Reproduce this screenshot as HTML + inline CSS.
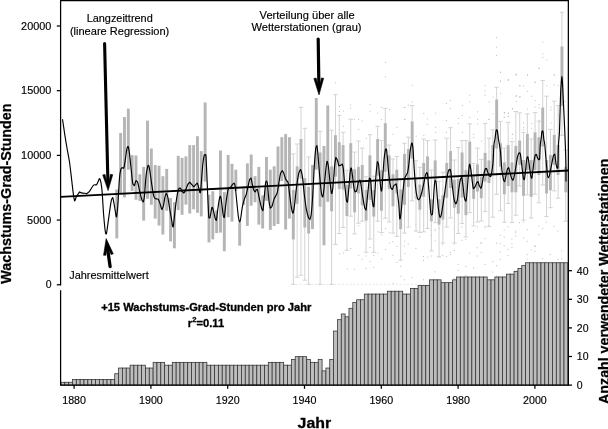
<!DOCTYPE html>
<html lang="de"><head><meta charset="utf-8"><title>Wachstums-Grad-Stunden</title><style>html,body{margin:0;padding:0;background:#fff}svg{display:block}</style></head><body>
<svg width="608" height="429" viewBox="0 0 608 429" font-family="Liberation Sans, Arial, Helvetica, sans-serif">
<rect width="608" height="429" fill="#fff"/>
<g fill="#bebebe">
<rect x="411.8" y="84.8" width="1" height="1"/>
<rect x="411.8" y="101.5" width="1" height="1"/>
<rect x="403.9" y="107.0" width="1" height="1"/>
<rect x="407.8" y="104.6" width="1" height="1"/>
<rect x="403.9" y="118.9" width="1" height="1"/>
<rect x="423.3" y="113.0" width="1" height="1"/>
<rect x="426.8" y="118.5" width="1" height="1"/>
<rect x="426.8" y="123.9" width="1" height="1"/>
<rect x="435.1" y="112.6" width="1" height="1"/>
<rect x="435.1" y="126.8" width="1" height="1"/>
<rect x="435.1" y="131.8" width="1" height="1"/>
<rect x="423.3" y="135.1" width="1" height="1"/>
<rect x="415.7" y="135.7" width="1" height="1"/>
<rect x="446.0" y="103.1" width="1" height="1"/>
<rect x="450.0" y="100.1" width="1" height="1"/>
<rect x="450.0" y="108.0" width="1" height="1"/>
<rect x="446.0" y="119.9" width="1" height="1"/>
<rect x="446.0" y="131.8" width="1" height="1"/>
<rect x="457.9" y="117.9" width="1" height="1"/>
<rect x="457.9" y="122.9" width="1" height="1"/>
<rect x="461.9" y="105.0" width="1" height="1"/>
<rect x="461.9" y="114.9" width="1" height="1"/>
<rect x="461.9" y="131.8" width="1" height="1"/>
<rect x="469.2" y="94.7" width="1" height="1"/>
<rect x="469.2" y="101.5" width="1" height="1"/>
<rect x="469.2" y="116.9" width="1" height="1"/>
<rect x="473.2" y="133.8" width="1" height="1"/>
<rect x="473.2" y="137.1" width="1" height="1"/>
<rect x="477.1" y="111.4" width="1" height="1"/>
<rect x="477.1" y="118.9" width="1" height="1"/>
<rect x="477.1" y="123.3" width="1" height="1"/>
<rect x="481.1" y="140.7" width="1" height="1"/>
<rect x="484.6" y="85.2" width="1" height="1"/>
<rect x="484.6" y="90.2" width="1" height="1"/>
<rect x="484.6" y="94.7" width="1" height="1"/>
<rect x="488.6" y="101.5" width="1" height="1"/>
<rect x="488.6" y="118.9" width="1" height="1"/>
<rect x="492.6" y="96.7" width="1" height="1"/>
<rect x="492.6" y="113.4" width="1" height="1"/>
<rect x="500.1" y="71.8" width="1" height="1"/>
<rect x="500.1" y="80.9" width="1" height="1"/>
<rect x="500.1" y="92.8" width="1" height="1"/>
<rect x="504.1" y="112.0" width="1" height="1"/>
<rect x="504.1" y="116.9" width="1" height="1"/>
<rect x="508.0" y="79.3" width="1" height="1"/>
<rect x="508.0" y="112.6" width="1" height="1"/>
<rect x="508.0" y="115.9" width="1" height="1"/>
<rect x="512.0" y="108.0" width="1" height="1"/>
<rect x="512.0" y="133.8" width="1" height="1"/>
<rect x="515.9" y="74.4" width="1" height="1"/>
<rect x="515.9" y="95.1" width="1" height="1"/>
<rect x="515.9" y="101.1" width="1" height="1"/>
<rect x="519.5" y="85.2" width="1" height="1"/>
<rect x="519.5" y="96.1" width="1" height="1"/>
<rect x="335.0" y="82.3" width="1" height="1"/>
<rect x="339.0" y="106.0" width="1" height="1"/>
<rect x="339.0" y="111.0" width="1" height="1"/>
<rect x="342.9" y="110.6" width="1" height="1"/>
<rect x="350.2" y="104.6" width="1" height="1"/>
<rect x="350.2" y="107.6" width="1" height="1"/>
<rect x="353.8" y="118.9" width="1" height="1"/>
<rect x="358.2" y="118.9" width="1" height="1"/>
<rect x="361.7" y="120.5" width="1" height="1"/>
<rect x="358.2" y="128.8" width="1" height="1"/>
<rect x="342.9" y="125.8" width="1" height="1"/>
<rect x="369.6" y="104.1" width="1" height="1"/>
<rect x="369.6" y="110.6" width="1" height="1"/>
<rect x="377.2" y="112.6" width="1" height="1"/>
<rect x="381.1" y="107.0" width="1" height="1"/>
<rect x="385.1" y="61.9" width="1" height="1"/>
<rect x="385.1" y="76.3" width="1" height="1"/>
<rect x="389.1" y="109.0" width="1" height="1"/>
<rect x="381.1" y="118.9" width="1" height="1"/>
<rect x="392.4" y="133.8" width="1" height="1"/>
<rect x="396.4" y="126.8" width="1" height="1"/>
<rect x="404.5" y="107.0" width="1" height="1"/>
<rect x="404.5" y="118.9" width="1" height="1"/>
<rect x="365.7" y="137.7" width="1" height="1"/>
<rect x="507.7" y="79.3" width="1" height="1"/>
<rect x="515.6" y="73.8" width="1" height="1"/>
<rect x="527.1" y="74.4" width="1" height="1"/>
<rect x="519.2" y="85.2" width="1" height="1"/>
<rect x="523.1" y="85.6" width="1" height="1"/>
<rect x="527.1" y="90.8" width="1" height="1"/>
<rect x="534.6" y="81.9" width="1" height="1"/>
<rect x="538.6" y="68.0" width="1" height="1"/>
<rect x="515.6" y="96.1" width="1" height="1"/>
<rect x="519.2" y="96.7" width="1" height="1"/>
<rect x="531.1" y="95.7" width="1" height="1"/>
<rect x="534.6" y="100.1" width="1" height="1"/>
<rect x="534.6" y="106.6" width="1" height="1"/>
<rect x="527.1" y="108.6" width="1" height="1"/>
<rect x="511.7" y="108.6" width="1" height="1"/>
<rect x="507.7" y="112.6" width="1" height="1"/>
<rect x="503.7" y="112.6" width="1" height="1"/>
<rect x="503.7" y="116.9" width="1" height="1"/>
<rect x="507.7" y="115.9" width="1" height="1"/>
<rect x="488.5" y="118.9" width="1" height="1"/>
<rect x="511.7" y="133.8" width="1" height="1"/>
<rect x="511.7" y="137.7" width="1" height="1"/>
<rect x="523.1" y="122.5" width="1" height="1"/>
<rect x="523.1" y="126.8" width="1" height="1"/>
<rect x="523.1" y="129.2" width="1" height="1"/>
<rect x="531.1" y="122.9" width="1" height="1"/>
<rect x="531.1" y="127.8" width="1" height="1"/>
<rect x="538.6" y="104.1" width="1" height="1"/>
<rect x="538.6" y="107.4" width="1" height="1"/>
<rect x="538.6" y="121.3" width="1" height="1"/>
<rect x="546.5" y="85.2" width="1" height="1"/>
<rect x="550.5" y="106.6" width="1" height="1"/>
<rect x="550.5" y="109.4" width="1" height="1"/>
<rect x="550.5" y="122.5" width="1" height="1"/>
<rect x="553.8" y="84.3" width="1" height="1"/>
<rect x="553.8" y="74.4" width="1" height="1"/>
<rect x="557.8" y="85.2" width="1" height="1"/>
<rect x="557.8" y="105.0" width="1" height="1"/>
<rect x="557.8" y="114.9" width="1" height="1"/>
<rect x="561.2" y="134.7" width="1" height="1"/>
<rect x="564.7" y="101.1" width="1" height="1"/>
<rect x="496.0" y="37.1" width="1" height="1"/>
<rect x="496.0" y="46.6" width="1" height="1"/>
<rect x="496.0" y="54.9" width="1" height="1"/>
<rect x="500.0" y="71.8" width="1" height="1"/>
<rect x="500.0" y="80.7" width="1" height="1"/>
<rect x="507.9" y="79.7" width="1" height="1"/>
<rect x="515.6" y="74.4" width="1" height="1"/>
<rect x="527.1" y="74.7" width="1" height="1"/>
<rect x="534.6" y="81.7" width="1" height="1"/>
<rect x="538.6" y="67.8" width="1" height="1"/>
<rect x="542.4" y="41.7" width="1" height="1"/>
<rect x="542.4" y="53.4" width="1" height="1"/>
<rect x="542.4" y="56.9" width="1" height="1"/>
<rect x="546.3" y="59.3" width="1" height="1"/>
<rect x="553.8" y="74.4" width="1" height="1"/>
<rect x="339.0" y="253.4" width="1" height="1"/>
<rect x="342.9" y="252.6" width="1" height="1"/>
<rect x="350.2" y="248.0" width="1" height="1"/>
<rect x="358.2" y="254.9" width="1" height="1"/>
<rect x="361.7" y="258.9" width="1" height="1"/>
<rect x="365.7" y="255.5" width="1" height="1"/>
<rect x="369.6" y="260.9" width="1" height="1"/>
<rect x="373.2" y="254.9" width="1" height="1"/>
<rect x="377.2" y="252.4" width="1" height="1"/>
<rect x="381.1" y="258.5" width="1" height="1"/>
<rect x="385.1" y="249.0" width="1" height="1"/>
<rect x="389.1" y="242.7" width="1" height="1"/>
<rect x="392.4" y="241.1" width="1" height="1"/>
<rect x="392.4" y="254.9" width="1" height="1"/>
<rect x="396.4" y="246.0" width="1" height="1"/>
<rect x="396.4" y="261.9" width="1" height="1"/>
<rect x="400.3" y="265.8" width="1" height="1"/>
<rect x="400.3" y="275.7" width="1" height="1"/>
<rect x="404.3" y="253.0" width="1" height="1"/>
<rect x="404.3" y="240.7" width="1" height="1"/>
<rect x="346.9" y="268.4" width="1" height="1"/>
<rect x="353.8" y="268.8" width="1" height="1"/>
<rect x="365.7" y="267.8" width="1" height="1"/>
<rect x="373.2" y="266.8" width="1" height="1"/>
<rect x="369.6" y="247.0" width="1" height="1"/>
<rect x="377.6" y="231.2" width="1" height="1"/>
<rect x="381.1" y="234.2" width="1" height="1"/>
<rect x="385.1" y="228.2" width="1" height="1"/>
<rect x="389.1" y="232.2" width="1" height="1"/>
<rect x="358.2" y="225.2" width="1" height="1"/>
<rect x="393.0" y="282.7" width="1" height="1"/>
<rect x="403.8" y="279.3" width="1" height="1"/>
<rect x="403.8" y="245.6" width="1" height="1"/>
<rect x="403.8" y="224.4" width="1" height="1"/>
<rect x="407.7" y="243.8" width="1" height="1"/>
<rect x="411.5" y="277.0" width="1" height="1"/>
<rect x="415.4" y="223.8" width="1" height="1"/>
<rect x="415.4" y="248.0" width="1" height="1"/>
<rect x="419.2" y="236.2" width="1" height="1"/>
<rect x="423.0" y="225.1" width="1" height="1"/>
<rect x="423.0" y="256.0" width="1" height="1"/>
<rect x="423.0" y="279.3" width="1" height="1"/>
<rect x="423.0" y="260.0" width="1" height="1"/>
<rect x="426.9" y="256.7" width="1" height="1"/>
<rect x="430.7" y="224.5" width="1" height="1"/>
<rect x="430.7" y="235.0" width="1" height="1"/>
<rect x="430.7" y="255.5" width="1" height="1"/>
<rect x="430.7" y="229.6" width="1" height="1"/>
<rect x="434.6" y="230.3" width="1" height="1"/>
<rect x="434.6" y="228.7" width="1" height="1"/>
<rect x="434.6" y="240.3" width="1" height="1"/>
<rect x="434.6" y="271.3" width="1" height="1"/>
<rect x="438.4" y="227.8" width="1" height="1"/>
<rect x="438.4" y="256.3" width="1" height="1"/>
<rect x="442.2" y="244.2" width="1" height="1"/>
<rect x="442.2" y="254.9" width="1" height="1"/>
<rect x="446.1" y="255.9" width="1" height="1"/>
<rect x="449.9" y="251.8" width="1" height="1"/>
<rect x="449.9" y="253.9" width="1" height="1"/>
<rect x="453.8" y="249.9" width="1" height="1"/>
<rect x="453.8" y="277.8" width="1" height="1"/>
<rect x="453.8" y="243.6" width="1" height="1"/>
<rect x="457.6" y="270.0" width="1" height="1"/>
<rect x="457.6" y="264.1" width="1" height="1"/>
<rect x="461.4" y="226.5" width="1" height="1"/>
<rect x="461.4" y="239.8" width="1" height="1"/>
<rect x="465.3" y="274.9" width="1" height="1"/>
<rect x="465.3" y="266.0" width="1" height="1"/>
<rect x="465.3" y="239.1" width="1" height="1"/>
<rect x="465.3" y="281.3" width="1" height="1"/>
<rect x="469.1" y="252.7" width="1" height="1"/>
<rect x="473.0" y="267.7" width="1" height="1"/>
<rect x="473.0" y="230.8" width="1" height="1"/>
<rect x="476.8" y="247.2" width="1" height="1"/>
<rect x="476.8" y="280.2" width="1" height="1"/>
<rect x="476.8" y="226.2" width="1" height="1"/>
<rect x="476.8" y="255.5" width="1" height="1"/>
<rect x="480.6" y="242.2" width="1" height="1"/>
<rect x="480.6" y="242.9" width="1" height="1"/>
<rect x="480.6" y="251.8" width="1" height="1"/>
<rect x="484.5" y="225.7" width="1" height="1"/>
<rect x="484.5" y="227.2" width="1" height="1"/>
<rect x="484.5" y="238.0" width="1" height="1"/>
<rect x="484.5" y="264.0" width="1" height="1"/>
<rect x="488.3" y="225.2" width="1" height="1"/>
<rect x="492.2" y="261.0" width="1" height="1"/>
<rect x="492.2" y="282.1" width="1" height="1"/>
<rect x="492.2" y="271.6" width="1" height="1"/>
<rect x="496.0" y="265.2" width="1" height="1"/>
<rect x="496.0" y="275.6" width="1" height="1"/>
<rect x="496.0" y="242.7" width="1" height="1"/>
<rect x="499.8" y="243.2" width="1" height="1"/>
<rect x="499.8" y="258.8" width="1" height="1"/>
<rect x="499.8" y="251.6" width="1" height="1"/>
<rect x="499.8" y="234.8" width="1" height="1"/>
<rect x="503.7" y="229.4" width="1" height="1"/>
<rect x="503.7" y="236.6" width="1" height="1"/>
<rect x="503.7" y="245.3" width="1" height="1"/>
<rect x="507.5" y="226.4" width="1" height="1"/>
<rect x="507.5" y="248.9" width="1" height="1"/>
<rect x="507.5" y="255.0" width="1" height="1"/>
<rect x="507.5" y="275.4" width="1" height="1"/>
<rect x="511.4" y="274.2" width="1" height="1"/>
<rect x="511.4" y="238.5" width="1" height="1"/>
<rect x="511.4" y="246.8" width="1" height="1"/>
<rect x="511.4" y="243.4" width="1" height="1"/>
<rect x="515.2" y="279.9" width="1" height="1"/>
<rect x="515.2" y="230.7" width="1" height="1"/>
<rect x="515.2" y="232.2" width="1" height="1"/>
<rect x="515.2" y="235.6" width="1" height="1"/>
<rect x="519.0" y="222.2" width="1" height="1"/>
<rect x="519.0" y="272.2" width="1" height="1"/>
<rect x="522.9" y="237.5" width="1" height="1"/>
<rect x="522.9" y="221.7" width="1" height="1"/>
<rect x="526.7" y="254.1" width="1" height="1"/>
<rect x="526.7" y="258.7" width="1" height="1"/>
<rect x="526.7" y="240.9" width="1" height="1"/>
<rect x="526.7" y="229.2" width="1" height="1"/>
<rect x="530.6" y="249.4" width="1" height="1"/>
<rect x="534.4" y="245.8" width="1" height="1"/>
<rect x="534.4" y="245.5" width="1" height="1"/>
<rect x="534.4" y="250.9" width="1" height="1"/>
<rect x="534.4" y="245.9" width="1" height="1"/>
<rect x="538.2" y="225.6" width="1" height="1"/>
<rect x="538.2" y="234.2" width="1" height="1"/>
<rect x="542.1" y="228.2" width="1" height="1"/>
<rect x="542.1" y="258.1" width="1" height="1"/>
<rect x="545.9" y="221.5" width="1" height="1"/>
<rect x="549.8" y="254.2" width="1" height="1"/>
<rect x="549.8" y="279.4" width="1" height="1"/>
<rect x="553.6" y="225.8" width="1" height="1"/>
<rect x="557.4" y="259.0" width="1" height="1"/>
<rect x="557.4" y="230.6" width="1" height="1"/>
<rect x="561.3" y="279.8" width="1" height="1"/>
<rect x="561.3" y="258.2" width="1" height="1"/>
<rect x="561.3" y="250.4" width="1" height="1"/>
<rect x="565.1" y="273.3" width="1" height="1"/>
<rect x="292.08" y="283.9" width="1.8" height="0.8" fill="#dedede"/>
<rect x="295.92" y="283.9" width="1.8" height="0.8" fill="#dedede"/>
<rect x="299.76" y="283.9" width="1.8" height="0.8" fill="#dedede"/>
<rect x="303.60" y="283.9" width="1.8" height="0.8" fill="#dedede"/>
<rect x="307.44" y="283.9" width="1.8" height="0.8" fill="#dedede"/>
<rect x="311.28" y="283.9" width="1.8" height="0.8" fill="#dedede"/>
<rect x="315.12" y="283.9" width="1.8" height="0.8" fill="#dedede"/>
<rect x="318.96" y="283.9" width="1.8" height="0.8" fill="#dedede"/>
<rect x="322.80" y="283.9" width="1.8" height="0.8" fill="#dedede"/>
<rect x="326.64" y="283.9" width="1.8" height="0.8" fill="#dedede"/>
<rect x="330.48" y="283.9" width="1.8" height="0.8" fill="#dedede"/>
<rect x="334.32" y="283.9" width="1.8" height="0.8" fill="#dedede"/>
<rect x="338.16" y="283.9" width="1.8" height="0.8" fill="#dedede"/>
<rect x="342.00" y="283.9" width="1.8" height="0.8" fill="#dedede"/>
<rect x="345.84" y="283.9" width="1.8" height="0.8" fill="#dedede"/>
<rect x="349.68" y="283.9" width="1.8" height="0.8" fill="#dedede"/>
<rect x="353.52" y="283.9" width="1.8" height="0.8" fill="#dedede"/>
<rect x="357.36" y="283.9" width="1.8" height="0.8" fill="#dedede"/>
<rect x="361.20" y="283.9" width="1.8" height="0.8" fill="#dedede"/>
<rect x="365.04" y="283.9" width="1.8" height="0.8" fill="#dedede"/>
<rect x="368.88" y="283.9" width="1.8" height="0.8" fill="#dedede"/>
<rect x="372.72" y="283.9" width="1.8" height="0.8" fill="#dedede"/>
<rect x="376.56" y="283.9" width="1.8" height="0.8" fill="#dedede"/>
<rect x="380.40" y="283.9" width="1.8" height="0.8" fill="#dedede"/>
<rect x="384.24" y="283.9" width="1.8" height="0.8" fill="#dedede"/>
<rect x="388.08" y="283.9" width="1.8" height="0.8" fill="#dedede"/>
<rect x="391.92" y="283.9" width="1.8" height="0.8" fill="#dedede"/>
<rect x="395.76" y="283.9" width="1.8" height="0.8" fill="#dedede"/>
<rect x="399.60" y="283.9" width="1.8" height="0.8" fill="#dedede"/>
<rect x="403.44" y="283.9" width="1.8" height="0.8" fill="#dedede"/>
<rect x="407.28" y="283.9" width="1.8" height="0.8" fill="#dedede"/>
<rect x="411.12" y="283.9" width="1.8" height="0.8" fill="#dedede"/>
<rect x="414.96" y="283.9" width="1.8" height="0.8" fill="#dedede"/>
<rect x="418.80" y="283.9" width="1.8" height="0.8" fill="#dedede"/>
<rect x="422.64" y="283.9" width="1.8" height="0.8" fill="#dedede"/>
<rect x="426.48" y="283.9" width="1.8" height="0.8" fill="#dedede"/>
<rect x="430.32" y="283.9" width="1.8" height="0.8" fill="#dedede"/>
<rect x="434.16" y="283.9" width="1.8" height="0.8" fill="#dedede"/>
<rect x="438.00" y="283.9" width="1.8" height="0.8" fill="#dedede"/>
</g>
<g stroke="#d3d3d3" stroke-width="1" fill="none">
<path d="M293.31 153.9V284.3M291.11 153.9h4.4M291.11 284.3h4.4"/>
<path d="M297.14 144.0V277.2M294.94 144.0h4.4M294.94 277.2h4.4"/>
<path d="M300.97 107.3V275.2M298.77 107.3h4.4M298.77 275.2h4.4"/>
<path d="M304.80 128.3V280.2M302.60 128.3h4.4M302.60 280.2h4.4"/>
<path d="M308.63 157.0V284.3M306.43 157.0h4.4M306.43 284.3h4.4"/>
<path d="M320.12 131.3V284.3M317.92 131.3h4.4M317.92 284.3h4.4"/>
<path d="M331.61 130.3V284.3M329.41 130.3h4.4M329.41 284.3h4.4"/>
<path d="M335.44 94.7V244.4M333.24 94.7h4.4M333.24 244.4h4.4"/>
<path d="M339.27 115.4V233.5M337.07 115.4h4.4M337.07 233.5h4.4"/>
<path d="M343.10 132.3V227.5M340.90 132.3h4.4M340.90 227.5h4.4"/>
<path d="M346.93 170.3V250.3M344.73 170.3h4.4M344.73 250.3h4.4"/>
<path d="M350.76 119.2V216.2M348.56 119.2h4.4M348.56 216.2h4.4"/>
<path d="M354.59 152.1V233.9M352.39 152.1h4.4M352.39 233.9h4.4"/>
<path d="M358.42 141.0V223.2M356.22 141.0h4.4M356.22 223.2h4.4"/>
<path d="M362.25 148.1V221.2M360.05 148.1h4.4M360.05 221.2h4.4"/>
<path d="M366.09 176.8V252.3M363.89 176.8h4.4M363.89 252.3h4.4"/>
<path d="M369.93 134.7V239.0M367.73 134.7h4.4M367.73 239.0h4.4"/>
<path d="M373.77 176.2V252.3M371.57 176.2h4.4M371.57 252.3h4.4"/>
<path d="M377.61 126.3V221.2M375.41 126.3h4.4M375.41 221.2h4.4"/>
<path d="M381.45 140.6V232.5M379.25 140.6h4.4M379.25 232.5h4.4"/>
<path d="M385.29 108.3V218.2M383.09 108.3h4.4M383.09 218.2h4.4"/>
<path d="M389.13 145.1V222.0M386.93 145.1h4.4M386.93 222.0h4.4"/>
<path d="M392.97 159.0V233.1M390.77 159.0h4.4M390.77 233.1h4.4"/>
<path d="M396.81 156.4V236.4M394.61 156.4h4.4M394.61 236.4h4.4"/>
<path d="M400.65 179.0V260.2M398.45 179.0h4.4M398.45 260.2h4.4"/>
<path d="M404.49 143.2V233.1M402.29 143.2h4.4M402.29 233.1h4.4"/>
<path d="M408.33 137.2V227.1M406.13 137.2h4.4M406.13 227.1h4.4"/>
<path d="M412.17 105.5V200.8M409.97 105.5h4.4M409.97 200.8h4.4"/>
<path d="M416.01 160.8V231.1M413.81 160.8h4.4M413.81 231.1h4.4"/>
<path d="M419.85 167.3V232.5M417.65 167.3h4.4M417.65 232.5h4.4"/>
<path d="M423.69 139.0V231.9M421.49 139.0h4.4M421.49 231.9h4.4"/>
<path d="M427.53 140.6V228.5M425.33 140.6h4.4M425.33 228.5h4.4"/>
<path d="M431.37 170.0V250.9M429.17 170.0h4.4M429.17 250.9h4.4"/>
<path d="M435.21 140.0V222.6M433.01 140.0h4.4M433.01 222.6h4.4"/>
<path d="M439.05 181.3V256.8M436.85 181.3h4.4M436.85 256.8h4.4"/>
<path d="M442.89 172.3V243.0M440.69 172.3h4.4M440.69 243.0h4.4"/>
<path d="M446.73 138.2V227.1M444.53 138.2h4.4M444.53 227.1h4.4"/>
<path d="M450.57 127.7V218.0M448.37 127.7h4.4M448.37 218.0h4.4"/>
<path d="M454.41 160.0V243.0M452.21 160.0h4.4M452.21 243.0h4.4"/>
<path d="M458.25 147.5V233.5M456.05 147.5h4.4M456.05 233.5h4.4"/>
<path d="M462.09 140.6V223.6M459.89 140.6h4.4M459.89 223.6h4.4"/>
<path d="M465.93 140.6V237.0M463.73 140.6h4.4M463.73 237.0h4.4"/>
<path d="M469.77 123.8V212.7M467.57 123.8h4.4M467.57 212.7h4.4"/>
<path d="M473.61 163.4V225.9M471.41 163.4h4.4M471.41 225.9h4.4"/>
<path d="M477.45 148.1V222.0M475.25 148.1h4.4M475.25 222.0h4.4"/>
<path d="M481.29 159.4V221.0M479.09 159.4h4.4M479.09 221.0h4.4"/>
<path d="M485.13 123.4V211.7M482.93 123.4h4.4M482.93 211.7h4.4"/>
<path d="M488.97 138.2V226.5M486.77 138.2h4.4M486.77 226.5h4.4"/>
<path d="M492.81 129.7V217.2M490.61 129.7h4.4M490.61 217.2h4.4"/>
<path d="M496.65 87.3V194.3M494.45 87.3h4.4M494.45 194.3h4.4"/>
<path d="M500.49 121.4V210.7M498.29 121.4h4.4M498.29 210.7h4.4"/>
<path d="M504.33 148.1V222.2M502.13 148.1h4.4M502.13 222.2h4.4"/>
<path d="M508.17 122.4V203.4M505.97 122.4h4.4M505.97 203.4h4.4"/>
<path d="M512.01 141.6V222.6M509.81 141.6h4.4M509.81 222.6h4.4"/>
<path d="M515.85 111.5V215.2M513.65 111.5h4.4M513.65 215.2h4.4"/>
<path d="M519.69 112.9V186.0M517.49 112.9h4.4M517.49 186.0h4.4"/>
<path d="M523.53 132.3V220.2M521.33 132.3h4.4M521.33 220.2h4.4"/>
<path d="M527.37 113.9V194.9M525.17 113.9h4.4M525.17 194.9h4.4"/>
<path d="M531.21 139.0V218.0M529.01 139.0h4.4M529.01 218.0h4.4"/>
<path d="M535.05 112.5V194.3M532.85 112.5h4.4M532.85 194.3h4.4"/>
<path d="M538.89 121.0V202.8M536.69 121.0h4.4M536.69 202.8h4.4"/>
<path d="M542.73 80.4V185.0M540.53 80.4h4.4M540.53 185.0h4.4"/>
<path d="M546.57 96.2V216.6M544.37 96.2h4.4M544.37 216.6h4.4"/>
<path d="M550.41 129.3V207.7M548.21 129.3h4.4M548.21 207.7h4.4"/>
<path d="M554.25 101.2V190.9M552.05 101.2h4.4M552.05 190.9h4.4"/>
<path d="M558.09 105.5V198.2M555.89 105.5h4.4M555.89 198.2h4.4"/>
<path d="M561.93 12.3V135.2M559.73 12.3h4.4M559.73 135.2h4.4"/>
<path d="M565.77 150.0V221.2M563.57 150.0h4.4M563.57 221.2h4.4"/>
</g>
<g fill="#b5b5b5">
<rect x="115.34" y="189.5" width="2.9" height="48.9"/>
<rect x="119.18" y="133.0" width="2.9" height="60.5"/>
<rect x="123.02" y="117.0" width="2.9" height="80.4"/>
<rect x="126.86" y="108.6" width="2.9" height="61.1"/>
<rect x="130.70" y="155.1" width="2.9" height="35.8"/>
<rect x="134.54" y="155.5" width="2.9" height="44.3"/>
<rect x="138.38" y="174.3" width="2.9" height="26.6"/>
<rect x="142.22" y="166.9" width="2.9" height="53.7"/>
<rect x="146.06" y="120.6" width="2.9" height="78.2"/>
<rect x="149.90" y="148.5" width="2.9" height="56.3"/>
<rect x="153.74" y="165.0" width="2.9" height="53.6"/>
<rect x="157.58" y="165.7" width="2.9" height="59.8"/>
<rect x="161.42" y="176.2" width="2.9" height="58.3"/>
<rect x="165.26" y="168.9" width="2.9" height="41.8"/>
<rect x="169.10" y="198.0" width="2.9" height="43.4"/>
<rect x="172.94" y="202.2" width="2.9" height="46.1"/>
<rect x="176.78" y="155.8" width="2.9" height="54.2"/>
<rect x="180.62" y="157.8" width="2.9" height="57.0"/>
<rect x="184.46" y="156.4" width="2.9" height="48.2"/>
<rect x="188.30" y="145.1" width="2.9" height="68.4"/>
<rect x="192.14" y="145.1" width="2.9" height="64.2"/>
<rect x="195.98" y="136.2" width="2.9" height="76.6"/>
<rect x="199.82" y="151.1" width="2.9" height="65.3"/>
<rect x="203.66" y="102.4" width="2.9" height="79.2"/>
<rect x="207.50" y="194.7" width="2.9" height="47.7"/>
<rect x="211.34" y="191.3" width="2.9" height="48.1"/>
<rect x="215.18" y="210.2" width="2.9" height="22.9"/>
<rect x="219.02" y="150.5" width="2.9" height="82.1"/>
<rect x="222.86" y="192.1" width="2.9" height="59.2"/>
<rect x="226.70" y="155.0" width="2.9" height="62.3"/>
<rect x="230.54" y="163.8" width="2.9" height="57.8"/>
<rect x="234.38" y="169.7" width="2.9" height="21.2"/>
<rect x="238.22" y="222.6" width="2.9" height="23.1"/>
<rect x="242.06" y="188.5" width="2.9" height="16.5"/>
<rect x="245.90" y="163.4" width="2.9" height="62.5"/>
<rect x="249.73" y="154.5" width="2.9" height="51.2"/>
<rect x="253.56" y="176.2" width="2.9" height="26.0"/>
<rect x="257.39" y="166.9" width="2.9" height="57.7"/>
<rect x="261.22" y="195.4" width="2.9" height="33.1"/>
<rect x="265.05" y="157.0" width="2.9" height="43.8"/>
<rect x="268.88" y="169.7" width="2.9" height="60.2"/>
<rect x="272.71" y="166.3" width="2.9" height="59.6"/>
<rect x="276.54" y="146.5" width="2.9" height="77.5"/>
<rect x="280.37" y="137.2" width="2.9" height="43.8"/>
<rect x="284.20" y="134.1" width="2.9" height="95.4"/>
<rect x="288.03" y="137.2" width="2.9" height="81.4"/>
<rect x="291.86" y="189.9" width="2.9" height="49.5"/>
<rect x="295.69" y="166.3" width="2.9" height="37.5"/>
<rect x="299.52" y="139.0" width="2.9" height="39.6"/>
<rect x="303.35" y="178.2" width="2.9" height="49.3"/>
<rect x="307.18" y="186.9" width="2.9" height="46.6"/>
<rect x="311.01" y="165.0" width="2.9" height="64.1"/>
<rect x="314.84" y="98.0" width="2.9" height="71.7"/>
<rect x="318.67" y="152.5" width="2.9" height="54.2"/>
<rect x="322.50" y="145.9" width="2.9" height="99.4"/>
<rect x="326.33" y="105.5" width="2.9" height="96.3"/>
<rect x="330.16" y="166.3" width="2.9" height="45.0"/>
<rect x="333.99" y="135.2" width="2.9" height="41.4"/>
<rect x="337.82" y="142.2" width="2.9" height="46.7"/>
<rect x="341.65" y="145.1" width="2.9" height="44.4"/>
<rect x="345.48" y="185.0" width="2.9" height="31.0"/>
<rect x="349.31" y="143.2" width="2.9" height="45.3"/>
<rect x="353.14" y="169.3" width="2.9" height="43.0"/>
<rect x="356.97" y="166.9" width="2.9" height="26.6"/>
<rect x="360.80" y="165.0" width="2.9" height="40.3"/>
<rect x="364.64" y="190.0" width="2.9" height="30.6"/>
<rect x="368.48" y="155.4" width="2.9" height="44.4"/>
<rect x="372.32" y="190.0" width="2.9" height="26.6"/>
<rect x="376.16" y="139.0" width="2.9" height="36.6"/>
<rect x="380.00" y="170.3" width="2.9" height="40.4"/>
<rect x="383.84" y="123.2" width="2.9" height="48.5"/>
<rect x="387.68" y="155.4" width="2.9" height="33.5"/>
<rect x="391.52" y="174.3" width="2.9" height="32.0"/>
<rect x="395.36" y="169.7" width="2.9" height="23.8"/>
<rect x="399.20" y="189.5" width="2.9" height="39.6"/>
<rect x="403.04" y="153.9" width="2.9" height="50.9"/>
<rect x="406.88" y="149.1" width="2.9" height="37.8"/>
<rect x="410.72" y="121.4" width="2.9" height="37.4"/>
<rect x="414.56" y="178.0" width="2.9" height="21.0" fill="#d2d2d2"/>
<rect x="418.40" y="184.6" width="2.9" height="25.1"/>
<rect x="422.24" y="163.0" width="2.9" height="33.8"/>
<rect x="426.08" y="156.4" width="2.9" height="23.2"/>
<rect x="429.92" y="199.4" width="2.9" height="21.8"/>
<rect x="433.76" y="160.4" width="2.9" height="20.2"/>
<rect x="437.60" y="199.3" width="2.9" height="25.3"/>
<rect x="441.44" y="195.4" width="2.9" height="24.2"/>
<rect x="445.28" y="163.0" width="2.9" height="34.8"/>
<rect x="449.12" y="151.1" width="2.9" height="36.9"/>
<rect x="452.96" y="179.6" width="2.9" height="28.1"/>
<rect x="456.80" y="179.0" width="2.9" height="34.7"/>
<rect x="460.64" y="152.5" width="2.9" height="44.9"/>
<rect x="464.48" y="170.3" width="2.9" height="44.9"/>
<rect x="468.32" y="141.6" width="2.9" height="33.1"/>
<rect x="472.16" y="175.6" width="2.9" height="23.2"/>
<rect x="476.00" y="164.4" width="2.9" height="27.1"/>
<rect x="479.84" y="176.6" width="2.9" height="21.6"/>
<rect x="483.68" y="152.9" width="2.9" height="28.7"/>
<rect x="487.52" y="160.4" width="2.9" height="22.6"/>
<rect x="491.36" y="145.1" width="2.9" height="28.6"/>
<rect x="495.20" y="99.6" width="2.9" height="48.9"/>
<rect x="499.04" y="143.2" width="2.9" height="23.5"/>
<rect x="502.88" y="162.4" width="2.9" height="31.9"/>
<rect x="506.72" y="145.1" width="2.9" height="40.9"/>
<rect x="510.56" y="162.4" width="2.9" height="29.9"/>
<rect x="514.40" y="145.9" width="2.9" height="46.4"/>
<rect x="518.24" y="140.6" width="2.9" height="24.2"/>
<rect x="522.08" y="160.0" width="2.9" height="35.8"/>
<rect x="525.92" y="133.9" width="2.9" height="36.1"/>
<rect x="529.76" y="160.0" width="2.9" height="36.8"/>
<rect x="533.60" y="132.3" width="2.9" height="37.7"/>
<rect x="537.44" y="137.2" width="2.9" height="37.8"/>
<rect x="541.28" y="107.5" width="2.9" height="39.0"/>
<rect x="545.12" y="160.0" width="2.9" height="33.5"/>
<rect x="548.96" y="155.0" width="2.9" height="35.3"/>
<rect x="552.80" y="134.9" width="2.9" height="30.1"/>
<rect x="556.64" y="145.0" width="2.9" height="30.0"/>
<rect x="560.48" y="46.5" width="2.9" height="59.5"/>
<rect x="564.32" y="166.7" width="2.9" height="25.6"/>
</g>
<g fill="#bdbdbd" stroke="#303030" stroke-width="0.75">
<rect x="60.96" y="382.25" width="3.84" height="2.85"/>
<rect x="64.80" y="382.25" width="3.84" height="2.85"/>
<rect x="68.64" y="382.25" width="3.84" height="2.85"/>
<rect x="72.48" y="379.41" width="3.84" height="5.69"/>
<rect x="76.32" y="379.41" width="3.84" height="5.69"/>
<rect x="80.16" y="379.41" width="3.84" height="5.69"/>
<rect x="84.00" y="379.41" width="3.84" height="5.69"/>
<rect x="87.84" y="379.41" width="3.84" height="5.69"/>
<rect x="91.68" y="379.41" width="3.84" height="5.69"/>
<rect x="95.52" y="379.41" width="3.84" height="5.69"/>
<rect x="99.36" y="379.41" width="3.84" height="5.69"/>
<rect x="103.20" y="379.41" width="3.84" height="5.69"/>
<rect x="107.04" y="379.41" width="3.84" height="5.69"/>
<rect x="110.88" y="379.41" width="3.84" height="5.69"/>
<rect x="114.72" y="373.72" width="3.84" height="11.38"/>
<rect x="118.56" y="368.03" width="3.84" height="17.07"/>
<rect x="122.40" y="368.03" width="3.84" height="17.07"/>
<rect x="126.24" y="368.03" width="3.84" height="17.07"/>
<rect x="130.08" y="365.19" width="3.84" height="19.92"/>
<rect x="133.92" y="365.19" width="3.84" height="19.92"/>
<rect x="137.76" y="365.19" width="3.84" height="19.92"/>
<rect x="141.60" y="365.19" width="3.84" height="19.92"/>
<rect x="145.44" y="368.03" width="3.84" height="17.07"/>
<rect x="149.28" y="368.03" width="3.84" height="17.07"/>
<rect x="153.12" y="362.34" width="3.84" height="22.76"/>
<rect x="156.96" y="362.34" width="3.84" height="22.76"/>
<rect x="160.80" y="362.34" width="3.84" height="22.76"/>
<rect x="164.64" y="365.19" width="3.84" height="19.92"/>
<rect x="168.48" y="365.19" width="3.84" height="19.92"/>
<rect x="172.32" y="362.34" width="3.84" height="22.76"/>
<rect x="176.16" y="362.34" width="3.84" height="22.76"/>
<rect x="180.00" y="362.34" width="3.84" height="22.76"/>
<rect x="183.84" y="362.34" width="3.84" height="22.76"/>
<rect x="187.68" y="362.34" width="3.84" height="22.76"/>
<rect x="191.52" y="362.34" width="3.84" height="22.76"/>
<rect x="195.36" y="362.34" width="3.84" height="22.76"/>
<rect x="199.20" y="362.34" width="3.84" height="22.76"/>
<rect x="203.04" y="362.34" width="3.84" height="22.76"/>
<rect x="206.88" y="365.19" width="3.84" height="19.92"/>
<rect x="210.72" y="365.19" width="3.84" height="19.92"/>
<rect x="214.56" y="365.19" width="3.84" height="19.92"/>
<rect x="218.40" y="365.19" width="3.84" height="19.92"/>
<rect x="222.24" y="365.19" width="3.84" height="19.92"/>
<rect x="226.08" y="365.19" width="3.84" height="19.92"/>
<rect x="229.92" y="365.19" width="3.84" height="19.92"/>
<rect x="233.76" y="365.19" width="3.84" height="19.92"/>
<rect x="237.60" y="365.19" width="3.84" height="19.92"/>
<rect x="241.44" y="365.19" width="3.84" height="19.92"/>
<rect x="245.28" y="365.19" width="3.84" height="19.92"/>
<rect x="249.12" y="365.19" width="3.84" height="19.92"/>
<rect x="252.96" y="365.19" width="3.84" height="19.92"/>
<rect x="256.80" y="365.19" width="3.84" height="19.92"/>
<rect x="260.64" y="365.19" width="3.84" height="19.92"/>
<rect x="264.48" y="365.19" width="3.84" height="19.92"/>
<rect x="268.32" y="362.34" width="3.84" height="22.76"/>
<rect x="272.16" y="362.34" width="3.84" height="22.76"/>
<rect x="276.00" y="362.34" width="3.84" height="22.76"/>
<rect x="279.84" y="362.34" width="3.84" height="22.76"/>
<rect x="283.68" y="365.19" width="3.84" height="19.92"/>
<rect x="287.52" y="365.19" width="3.84" height="19.92"/>
<rect x="291.36" y="359.50" width="3.84" height="25.61"/>
<rect x="295.20" y="356.65" width="3.84" height="28.45"/>
<rect x="299.04" y="356.65" width="3.84" height="28.45"/>
<rect x="302.88" y="356.65" width="3.84" height="28.45"/>
<rect x="306.72" y="359.50" width="3.84" height="25.61"/>
<rect x="310.56" y="362.34" width="3.84" height="22.76"/>
<rect x="314.40" y="362.34" width="3.84" height="22.76"/>
<rect x="318.24" y="359.50" width="3.84" height="25.61"/>
<rect x="322.08" y="370.88" width="3.84" height="14.23"/>
<rect x="325.92" y="368.03" width="3.84" height="17.07"/>
<rect x="329.76" y="359.50" width="3.84" height="25.61"/>
<rect x="333.60" y="331.05" width="3.84" height="54.06"/>
<rect x="337.44" y="319.67" width="3.84" height="65.44"/>
<rect x="341.28" y="313.98" width="3.84" height="71.12"/>
<rect x="345.12" y="316.82" width="3.84" height="68.28"/>
<rect x="348.96" y="308.29" width="3.84" height="76.82"/>
<rect x="352.80" y="302.60" width="3.84" height="82.51"/>
<rect x="356.64" y="299.75" width="3.84" height="85.35"/>
<rect x="360.48" y="299.75" width="3.84" height="85.35"/>
<rect x="364.32" y="294.06" width="3.84" height="91.04"/>
<rect x="368.16" y="294.06" width="3.84" height="91.04"/>
<rect x="372.00" y="294.06" width="3.84" height="91.04"/>
<rect x="375.84" y="294.06" width="3.84" height="91.04"/>
<rect x="379.68" y="294.06" width="3.84" height="91.04"/>
<rect x="383.52" y="294.06" width="3.84" height="91.04"/>
<rect x="387.36" y="291.22" width="3.84" height="93.89"/>
<rect x="391.20" y="291.22" width="3.84" height="93.89"/>
<rect x="395.04" y="291.22" width="3.84" height="93.89"/>
<rect x="398.88" y="291.22" width="3.84" height="93.89"/>
<rect x="402.72" y="294.06" width="3.84" height="91.04"/>
<rect x="406.56" y="294.06" width="3.84" height="91.04"/>
<rect x="410.40" y="288.37" width="3.84" height="96.73"/>
<rect x="414.24" y="288.37" width="3.84" height="96.73"/>
<rect x="418.08" y="285.53" width="3.84" height="99.58"/>
<rect x="421.92" y="285.53" width="3.84" height="99.58"/>
<rect x="425.76" y="285.53" width="3.84" height="99.58"/>
<rect x="429.60" y="279.84" width="3.84" height="105.27"/>
<rect x="433.44" y="279.84" width="3.84" height="105.27"/>
<rect x="437.28" y="279.84" width="3.84" height="105.27"/>
<rect x="441.12" y="282.68" width="3.84" height="102.42"/>
<rect x="444.96" y="282.68" width="3.84" height="102.42"/>
<rect x="448.80" y="282.68" width="3.84" height="102.42"/>
<rect x="452.64" y="279.84" width="3.84" height="105.27"/>
<rect x="456.48" y="276.99" width="3.84" height="108.11"/>
<rect x="460.32" y="276.99" width="3.84" height="108.11"/>
<rect x="464.16" y="276.99" width="3.84" height="108.11"/>
<rect x="468.00" y="276.99" width="3.84" height="108.11"/>
<rect x="471.84" y="276.99" width="3.84" height="108.11"/>
<rect x="475.68" y="276.99" width="3.84" height="108.11"/>
<rect x="479.52" y="276.99" width="3.84" height="108.11"/>
<rect x="483.36" y="276.99" width="3.84" height="108.11"/>
<rect x="487.20" y="279.84" width="3.84" height="105.27"/>
<rect x="491.04" y="279.84" width="3.84" height="105.27"/>
<rect x="494.88" y="276.99" width="3.84" height="108.11"/>
<rect x="498.72" y="276.99" width="3.84" height="108.11"/>
<rect x="502.56" y="276.99" width="3.84" height="108.11"/>
<rect x="506.40" y="274.14" width="3.84" height="110.96"/>
<rect x="510.24" y="274.14" width="3.84" height="110.96"/>
<rect x="514.08" y="271.30" width="3.84" height="113.80"/>
<rect x="517.92" y="268.46" width="3.84" height="116.65"/>
<rect x="521.76" y="265.61" width="3.84" height="119.49"/>
<rect x="525.60" y="262.76" width="3.84" height="122.34"/>
<rect x="529.44" y="262.76" width="3.84" height="122.34"/>
<rect x="533.28" y="262.76" width="3.84" height="122.34"/>
<rect x="537.12" y="262.76" width="3.84" height="122.34"/>
<rect x="540.96" y="262.76" width="3.84" height="122.34"/>
<rect x="544.80" y="262.76" width="3.84" height="122.34"/>
<rect x="548.64" y="262.76" width="3.84" height="122.34"/>
<rect x="552.48" y="262.76" width="3.84" height="122.34"/>
<rect x="556.32" y="262.76" width="3.84" height="122.34"/>
<rect x="560.16" y="262.76" width="3.84" height="122.34"/>
<rect x="564.00" y="262.76" width="3.84" height="122.34"/>
</g>
<path d="M62.52 119.21C62.89 121.68 63.98 129.34 64.70 134.06C65.43 138.78 66.09 142.90 66.88 147.52C67.67 152.15 68.66 156.44 69.46 161.78C70.25 167.13 71.01 174.39 71.63 179.60C72.26 184.82 72.76 189.65 73.22 193.07C73.68 196.49 74.14 198.86 74.40 200.11C74.67 201.37 74.67 200.59 74.80 200.59C74.94 200.59 74.94 200.74 75.20 200.11C75.47 199.49 75.69 198.12 76.39 196.83C77.08 195.54 78.79 193.19 79.35 192.36C79.91 191.54 79.62 191.88 79.75 191.88C79.89 191.88 79.66 192.16 80.15 192.36C80.65 192.56 81.70 192.89 82.72 193.07C83.74 193.25 85.62 193.33 86.28 193.47C86.94 193.60 86.55 193.88 86.68 193.86C86.82 193.85 86.59 193.84 87.08 193.38C87.58 192.92 88.57 192.46 89.65 191.09C90.74 189.72 92.46 186.24 93.61 185.15C94.77 184.06 95.66 185.56 96.58 184.55C97.51 183.55 98.66 180.08 99.15 179.09C99.65 178.10 99.42 178.61 99.55 178.61C99.69 178.61 99.72 178.43 99.95 179.09C100.19 179.75 100.58 180.44 100.94 182.57C101.30 184.71 101.70 186.77 102.13 191.88C102.56 197.00 103.05 207.16 103.51 213.27C103.98 219.37 104.54 225.16 104.90 228.51C105.26 231.87 105.49 232.49 105.69 233.38C105.89 234.27 105.96 233.86 106.09 233.86C106.22 233.86 106.29 234.27 106.49 233.38C106.69 232.49 106.95 230.81 107.28 228.51C107.61 226.22 107.84 224.06 108.47 219.60C109.09 215.15 110.41 205.33 111.04 201.78C111.67 198.23 111.96 198.96 112.22 198.30C112.49 197.64 112.49 197.82 112.62 197.82C112.76 197.82 112.73 196.98 113.02 198.30C113.32 199.62 113.91 202.83 114.41 205.74C114.90 208.65 115.66 214.01 115.99 215.76C116.32 217.51 116.25 216.24 116.39 216.24C116.52 216.24 116.52 217.84 116.79 215.76C117.05 213.68 117.54 209.79 117.97 203.76C118.40 197.74 118.89 185.28 119.36 179.60C119.82 173.93 120.25 171.68 120.74 169.70C121.24 167.72 121.80 168.05 122.33 167.72C122.85 167.39 123.42 169.04 123.91 167.72C124.41 166.40 124.83 162.77 125.30 159.80C125.76 156.83 126.32 152.03 126.68 149.90C127.05 147.77 127.27 147.58 127.47 147.01C127.67 146.45 127.74 146.53 127.87 146.53C128.00 146.53 128.04 146.12 128.27 147.01C128.50 147.91 128.76 148.10 129.26 151.88C129.75 155.66 130.68 164.59 131.24 169.70C131.80 174.82 132.20 180.01 132.62 182.57C133.05 185.13 133.54 184.57 133.81 185.06C134.07 185.56 134.07 185.54 134.21 185.54C134.34 185.54 134.34 185.81 134.61 185.06C134.87 184.32 135.52 181.82 135.79 181.07C136.05 180.33 136.05 180.59 136.19 180.59C136.32 180.59 136.32 180.74 136.59 181.07C136.85 181.40 137.24 180.84 137.77 182.57C138.30 184.31 139.09 188.68 139.75 191.49C140.41 194.29 141.24 197.77 141.73 199.41C142.23 201.04 142.49 200.91 142.72 201.30C142.95 201.70 142.99 201.78 143.12 201.78C143.25 201.78 143.29 202.36 143.52 201.30C143.75 200.25 144.08 199.72 144.50 195.45C144.93 191.17 145.56 180.43 146.09 175.64C146.62 170.86 147.34 168.37 147.67 166.73C148.00 165.09 147.94 166.05 148.07 165.82C148.20 165.59 148.33 165.34 148.47 165.35C148.60 165.35 148.67 165.10 148.87 165.83C149.06 166.55 149.19 166.75 149.65 169.70C150.11 172.66 150.97 179.27 151.63 183.56C152.29 187.85 153.05 192.97 153.61 195.45C154.17 197.92 154.44 197.82 155.00 198.42C155.56 199.01 156.42 198.84 156.98 199.01C157.54 199.17 157.87 198.68 158.37 199.41C158.86 200.13 159.42 201.80 159.95 203.37C160.48 204.94 161.20 207.84 161.53 208.83C161.86 209.82 161.80 209.31 161.93 209.31C162.06 209.31 162.07 209.49 162.33 208.83C162.59 208.17 163.09 207.25 163.51 205.35C163.94 203.45 164.51 199.33 164.90 197.43C165.30 195.53 165.66 194.61 165.89 193.95C166.12 193.29 166.15 193.47 166.29 193.47C166.42 193.47 166.42 193.29 166.69 193.95C166.95 194.61 167.41 195.20 167.87 197.43C168.33 199.66 168.80 203.37 169.46 207.33C170.12 211.29 171.31 218.07 171.83 221.19C172.35 224.31 172.38 225.16 172.57 226.05C172.76 226.95 172.84 226.53 172.97 226.53C173.10 226.53 173.14 227.61 173.37 226.05C173.60 224.50 173.93 221.01 174.36 217.23C174.78 213.45 175.41 207.33 175.94 203.37C176.47 199.41 177.03 195.94 177.52 193.47C178.02 190.99 178.52 189.37 178.91 188.51C179.31 187.66 179.67 188.38 179.90 188.32C180.13 188.25 180.16 188.07 180.30 188.12C180.43 188.17 180.43 188.10 180.70 188.60C180.96 189.09 181.42 190.42 181.88 191.09C182.34 191.75 183.13 192.26 183.46 192.59C183.79 192.92 183.73 193.07 183.86 193.07C183.99 193.07 183.93 193.18 184.26 192.59C184.59 192.00 185.25 190.84 185.84 189.50C186.43 188.17 187.23 185.70 187.82 184.55C188.42 183.41 189.07 183.05 189.40 182.66C189.73 182.26 189.67 182.18 189.80 182.18C189.94 182.18 189.87 182.26 190.20 182.66C190.53 183.05 191.26 183.92 191.78 184.55C192.31 185.19 193.03 186.05 193.36 186.45C193.69 186.85 193.63 186.93 193.76 186.93C193.90 186.93 193.83 186.85 194.16 186.45C194.49 186.05 195.31 185.02 195.74 184.55C196.17 184.09 196.50 183.88 196.73 183.65C196.96 183.42 197.00 183.17 197.13 183.17C197.26 183.17 197.26 182.92 197.53 183.65C197.79 184.37 198.35 186.13 198.71 187.52C199.07 188.92 199.47 191.17 199.70 192.00C199.93 192.82 199.97 192.48 200.10 192.48C200.23 192.48 200.30 193.48 200.50 192.00C200.70 190.51 200.92 187.94 201.29 183.56C201.65 179.19 202.21 170.36 202.67 165.74C203.14 161.12 203.73 157.64 204.06 155.84C204.39 154.04 204.48 155.17 204.65 154.94C204.81 154.70 204.92 154.46 205.05 154.46C205.18 154.46 205.28 154.45 205.45 154.94C205.61 155.43 205.74 152.62 206.04 157.40C206.34 162.17 206.80 173.98 207.23 183.56C207.66 193.15 208.28 209.25 208.61 214.88C208.94 220.51 209.04 216.85 209.20 217.34C209.37 217.83 209.47 217.82 209.60 217.82C209.74 217.82 209.77 218.27 210.00 217.34C210.23 216.42 210.69 213.87 210.99 212.28C211.29 210.69 211.58 208.63 211.78 207.81C211.98 206.98 212.04 207.33 212.18 207.33C212.31 207.33 212.35 207.15 212.58 207.81C212.81 208.47 213.14 209.55 213.56 211.29C213.99 213.02 214.79 216.81 215.15 218.22C215.51 219.62 215.57 219.39 215.74 219.72C215.90 220.05 216.01 220.20 216.14 220.20C216.27 220.20 216.31 221.20 216.54 219.72C216.77 218.23 217.10 214.51 217.52 211.29C217.95 208.07 218.71 202.79 219.11 200.40C219.50 198.00 219.70 197.58 219.90 196.92C220.10 196.26 220.16 196.44 220.30 196.44C220.43 196.44 220.50 196.09 220.70 196.92C220.90 197.74 221.09 198.49 221.49 201.39C221.88 204.28 222.71 211.73 223.07 214.29C223.43 216.85 223.49 216.26 223.66 216.75C223.82 217.24 223.93 217.23 224.06 217.23C224.19 217.23 224.23 218.40 224.46 216.75C224.69 215.10 225.02 210.88 225.45 207.33C225.87 203.78 226.53 198.58 227.03 195.45C227.52 192.31 227.85 189.83 228.42 188.51C228.98 187.19 229.74 188.18 230.40 187.52C231.06 186.86 231.85 185.20 232.38 184.55C232.90 183.91 233.30 183.88 233.56 183.65C233.82 183.42 233.83 183.17 233.96 183.17C234.09 183.17 234.13 182.92 234.36 183.65C234.59 184.37 234.92 184.24 235.35 187.52C235.77 190.81 236.44 198.58 236.93 203.37C237.43 208.15 237.92 213.25 238.32 216.24C238.71 219.23 239.07 220.38 239.30 221.30C239.53 222.23 239.57 221.78 239.70 221.78C239.84 221.78 239.90 222.06 240.10 221.30C240.30 220.54 240.53 219.56 240.89 217.23C241.25 214.90 241.72 210.30 242.28 207.33C242.84 204.36 243.60 201.55 244.26 199.41C244.92 197.26 245.58 196.77 246.24 194.46C246.90 192.15 247.66 188.02 248.22 185.54C248.78 183.07 249.24 180.75 249.60 179.60C249.97 178.46 250.19 178.93 250.39 178.70C250.59 178.47 250.66 178.22 250.79 178.22C250.93 178.22 250.96 177.81 251.19 178.70C251.42 179.59 251.78 181.76 252.18 183.56C252.57 185.37 253.14 188.20 253.56 189.50C253.99 190.81 254.48 191.01 254.75 191.40C255.01 191.80 255.02 191.88 255.15 191.88C255.28 191.88 255.38 191.72 255.55 191.40C255.71 191.09 255.97 190.30 256.13 189.98C256.30 189.67 256.40 189.55 256.53 189.50C256.67 189.46 256.77 189.64 256.93 189.70C257.10 189.77 257.16 188.61 257.52 189.90C257.89 191.19 258.51 194.69 259.11 197.43C259.70 200.17 260.56 204.27 261.09 206.34C261.62 208.40 262.01 209.16 262.27 209.82C262.54 210.48 262.54 210.30 262.67 210.30C262.81 210.30 262.84 211.63 263.07 209.82C263.30 208.00 263.66 203.69 264.06 199.41C264.45 195.12 265.12 187.09 265.45 184.13C265.77 181.17 265.87 182.16 266.04 181.67C266.20 181.18 266.30 181.19 266.44 181.19C266.57 181.19 266.67 181.18 266.84 181.67C267.00 182.16 267.06 180.84 267.43 184.13C267.79 187.42 268.55 197.50 269.01 201.39C269.47 205.27 269.93 206.35 270.19 207.44C270.46 208.53 270.46 207.92 270.59 207.92C270.73 207.92 270.76 207.70 270.99 207.44C271.23 207.18 271.49 207.68 271.98 206.34C272.47 205.00 273.30 201.22 273.96 199.41C274.62 197.59 275.38 196.60 275.94 195.45C276.50 194.29 276.83 194.62 277.33 192.48C277.82 190.33 278.38 185.71 278.91 182.57C279.44 179.44 280.00 175.56 280.50 173.66C280.99 171.76 281.58 171.67 281.88 171.17C282.17 170.68 282.14 170.69 282.28 170.69C282.41 170.69 282.41 170.68 282.68 171.17C282.94 171.67 283.33 172.26 283.86 173.66C284.39 175.07 285.18 178.22 285.84 179.60C286.50 180.99 287.37 180.99 287.82 181.98C288.28 182.97 288.21 182.97 288.56 185.54C288.92 188.12 289.46 193.63 289.95 197.43C290.45 201.22 291.11 205.82 291.53 208.32C291.96 210.81 292.29 211.63 292.52 212.39C292.75 213.15 292.79 212.87 292.92 212.87C293.05 212.87 293.06 213.65 293.32 212.39C293.58 211.14 293.98 209.49 294.50 205.35C295.03 201.20 295.83 192.64 296.49 187.52C297.15 182.41 297.87 177.54 298.47 174.65C299.06 171.76 299.72 171.01 300.05 170.18C300.38 169.36 300.31 169.70 300.45 169.70C300.58 169.70 300.52 169.03 300.85 170.18C301.18 171.34 301.83 172.42 302.43 176.63C303.02 180.84 303.75 190.00 304.41 195.45C305.07 200.89 305.73 205.68 306.39 209.31C307.05 212.94 307.87 215.66 308.37 217.23C308.86 218.80 309.12 218.40 309.35 218.73C309.58 219.06 309.62 219.21 309.75 219.21C309.89 219.21 309.89 219.72 310.15 218.73C310.42 217.74 310.91 217.15 311.34 213.27C311.77 209.39 312.23 203.37 312.72 195.45C313.22 187.52 313.81 173.50 314.31 165.74C314.80 157.98 315.36 152.10 315.69 148.88C316.02 145.66 316.12 146.91 316.28 146.42C316.45 145.93 316.55 145.94 316.68 145.94C316.82 145.94 316.89 145.17 317.08 146.42C317.28 147.67 317.44 148.59 317.87 153.47C318.30 158.34 319.09 169.24 319.65 175.64C320.21 182.05 320.81 188.46 321.24 191.88C321.67 195.30 321.99 195.36 322.22 196.15C322.45 196.95 322.49 196.63 322.62 196.63C322.76 196.63 322.79 197.51 323.02 196.15C323.25 194.80 323.58 192.59 324.01 188.51C324.44 184.44 325.13 176.06 325.59 171.68C326.06 167.31 326.51 163.91 326.78 162.26C327.04 160.61 327.04 161.78 327.18 161.78C327.31 161.78 327.35 161.27 327.58 162.26C327.81 163.25 328.14 164.17 328.56 167.72C328.99 171.27 329.69 179.42 330.15 183.56C330.61 187.71 331.07 191.01 331.33 192.59C331.60 194.17 331.60 193.07 331.73 193.07C331.87 193.07 331.90 193.84 332.13 192.59C332.36 191.34 332.72 189.75 333.12 185.54C333.51 181.33 334.08 171.87 334.50 167.33C334.93 162.79 335.43 159.89 335.69 158.30C335.95 156.72 335.96 157.82 336.09 157.82C336.22 157.82 336.26 157.87 336.49 158.30C336.72 158.73 337.11 159.24 337.48 160.40C337.84 161.56 338.40 164.37 338.66 165.26C338.92 166.15 338.93 165.70 339.06 165.74C339.19 165.79 339.23 165.61 339.46 165.54C339.69 165.48 340.08 165.50 340.45 165.35C340.81 165.20 341.37 164.84 341.63 164.64C341.89 164.44 341.90 164.16 342.03 164.16C342.16 164.16 342.20 163.71 342.43 164.64C342.66 165.56 342.99 165.89 343.42 169.70C343.84 173.52 344.50 182.49 345.00 187.52C345.50 192.56 346.09 197.60 346.39 199.90C346.68 202.20 346.65 201.00 346.78 201.31C346.91 201.63 347.05 201.78 347.18 201.78C347.31 201.78 347.38 202.69 347.58 201.30C347.78 199.92 347.97 197.91 348.37 193.47C348.76 189.02 349.56 178.76 349.95 174.65C350.35 170.54 350.54 169.85 350.74 168.80C350.94 167.74 351.01 168.32 351.14 168.32C351.27 168.32 351.34 167.74 351.54 168.80C351.74 169.85 351.93 171.53 352.33 174.65C352.72 177.77 353.48 184.73 353.91 187.52C354.34 190.32 354.67 190.68 354.90 191.40C355.13 192.13 355.16 191.88 355.30 191.88C355.43 191.88 355.47 191.63 355.70 191.40C355.93 191.17 356.25 191.97 356.68 190.50C357.11 189.02 357.81 184.21 358.27 182.57C358.73 180.94 359.19 181.07 359.45 180.68C359.72 180.28 359.72 180.20 359.85 180.20C359.98 180.20 360.02 179.62 360.25 180.68C360.48 181.73 360.81 183.74 361.24 186.53C361.67 189.33 362.26 193.96 362.82 197.43C363.38 200.89 364.18 205.36 364.60 207.33C365.03 209.29 365.19 208.83 365.39 209.22C365.59 209.62 365.66 209.70 365.79 209.70C365.93 209.70 365.96 210.94 366.19 209.22C366.42 207.51 366.78 203.35 367.18 199.41C367.57 195.46 368.20 189.00 368.56 185.54C368.93 182.09 369.15 179.92 369.35 178.70C369.55 177.48 369.62 178.22 369.75 178.22C369.89 178.22 369.99 178.21 370.15 178.70C370.32 179.19 370.41 177.71 370.74 181.16C371.07 184.61 371.73 195.29 372.13 199.41C372.52 203.52 372.88 204.70 373.11 205.86C373.35 207.01 373.38 206.34 373.51 206.34C373.65 206.34 373.72 207.67 373.91 205.86C374.11 204.04 374.34 200.81 374.70 195.45C375.07 190.08 375.66 179.13 376.09 173.66C376.52 168.20 377.01 164.57 377.27 162.66C377.54 160.74 377.54 162.18 377.67 162.18C377.81 162.18 377.91 162.17 378.07 162.66C378.24 163.15 378.33 161.96 378.66 165.12C378.99 168.27 379.65 177.43 380.05 181.58C380.44 185.73 380.80 188.53 381.04 190.02C381.27 191.50 381.30 190.50 381.44 190.50C381.57 190.50 381.64 191.83 381.84 190.02C382.03 188.20 382.26 184.64 382.62 179.60C382.99 174.57 383.55 164.75 384.01 159.80C384.47 154.85 385.10 151.60 385.40 149.90C385.69 148.20 385.66 149.70 385.79 149.60C385.92 149.50 386.06 149.28 386.19 149.31C386.32 149.34 386.39 148.37 386.59 149.79C386.79 151.21 386.98 153.51 387.38 157.82C387.77 162.13 388.43 170.86 388.96 175.64C389.49 180.43 390.08 184.30 390.54 186.53C391.01 188.76 391.46 188.53 391.73 189.02C391.99 189.52 392.00 189.50 392.13 189.50C392.26 189.50 392.23 189.69 392.53 189.02C392.83 188.36 393.42 186.31 393.91 185.54C394.40 184.78 395.16 184.70 395.49 184.44C395.82 184.18 395.76 183.96 395.89 183.96C396.02 183.96 396.06 183.19 396.29 184.44C396.52 185.69 396.85 188.00 397.28 191.49C397.71 194.97 398.47 200.97 398.86 205.35C399.25 209.72 399.41 215.59 399.60 217.74C399.79 219.88 399.87 218.22 400.00 218.22C400.13 218.22 400.14 219.55 400.40 217.74C400.66 215.92 401.16 211.70 401.58 207.33C402.01 202.95 402.51 196.11 402.97 191.49C403.43 186.86 403.86 182.24 404.36 179.60C404.85 176.96 405.41 176.80 405.94 175.64C406.47 174.49 407.03 174.65 407.52 172.67C408.02 170.69 408.45 167.56 408.91 163.76C409.37 159.97 409.87 153.22 410.30 149.90C410.73 146.58 411.22 144.94 411.48 143.85C411.75 142.76 411.75 143.37 411.88 143.37C412.01 143.37 412.08 142.76 412.28 143.85C412.48 144.94 412.74 145.59 413.07 149.90C413.40 154.21 413.80 163.10 414.26 169.70C414.72 176.30 415.35 184.88 415.84 189.50C416.34 194.13 416.87 195.79 417.23 197.43C417.59 199.06 417.82 198.93 418.02 199.32C418.21 199.72 418.28 199.80 418.42 199.80C418.55 199.80 418.58 199.55 418.82 199.32C419.05 199.09 419.31 199.56 419.80 198.42C420.30 197.27 421.12 194.95 421.78 192.48C422.44 190.00 423.17 186.37 423.76 183.56C424.36 180.76 424.92 177.38 425.35 175.64C425.77 173.91 426.10 173.65 426.33 173.15C426.56 172.66 426.60 172.67 426.73 172.67C426.87 172.67 426.97 172.66 427.13 173.15C427.30 173.64 427.36 171.90 427.72 175.61C428.09 179.33 428.81 189.40 429.31 195.45C429.80 201.49 430.36 208.76 430.69 211.91C431.02 215.06 431.12 213.88 431.28 214.37C431.45 214.86 431.55 214.85 431.68 214.85C431.82 214.85 431.92 214.86 432.08 214.37C432.25 213.88 432.34 216.06 432.67 211.91C433.00 207.77 433.70 194.64 434.06 189.50C434.42 184.37 434.65 182.56 434.85 181.07C435.05 179.59 435.11 180.59 435.25 180.59C435.38 180.59 435.48 180.58 435.65 181.07C435.81 181.56 435.91 180.15 436.24 183.53C436.57 186.92 437.16 196.43 437.62 201.39C438.09 206.34 438.65 210.71 439.01 213.27C439.37 215.83 439.60 216.09 439.80 216.75C440.00 217.41 440.06 217.23 440.20 217.23C440.33 217.23 440.37 217.41 440.60 216.75C440.83 216.09 441.16 215.50 441.58 213.27C442.01 211.04 442.57 207.33 443.17 203.37C443.76 199.41 444.49 193.96 445.15 189.50C445.81 185.05 446.57 179.77 447.13 176.63C447.69 173.50 448.12 171.83 448.51 170.69C448.91 169.55 449.27 170.02 449.50 169.79C449.73 169.56 449.77 169.31 449.90 169.31C450.03 169.31 450.10 169.06 450.30 169.79C450.50 170.51 450.73 170.71 451.09 173.66C451.45 176.62 451.98 183.23 452.48 187.52C452.97 191.82 453.57 196.78 454.06 199.41C454.55 202.03 455.14 202.56 455.44 203.28C455.74 204.01 455.71 203.76 455.84 203.76C455.97 203.76 455.98 204.01 456.24 203.28C456.51 202.56 456.96 202.03 457.43 199.41C457.89 196.78 458.51 190.83 459.01 187.52C459.50 184.22 460.03 181.17 460.40 179.60C460.76 178.03 460.99 178.43 461.18 178.10C461.38 177.77 461.45 177.62 461.58 177.62C461.72 177.62 461.75 176.78 461.98 178.10C462.22 179.42 462.57 182.32 462.97 185.54C463.37 188.76 463.96 194.93 464.36 197.43C464.75 199.92 465.11 199.92 465.34 200.51C465.57 201.10 465.61 200.99 465.74 200.99C465.88 200.99 465.94 201.76 466.14 200.51C466.34 199.26 466.57 197.61 466.93 193.47C467.29 189.32 467.92 180.35 468.32 175.64C468.71 170.94 469.07 167.05 469.30 165.23C469.53 163.42 469.57 164.75 469.70 164.75C469.84 164.75 469.90 164.41 470.10 165.23C470.30 166.06 470.53 166.98 470.89 169.70C471.25 172.43 471.88 178.53 472.28 181.58C472.67 184.64 473.03 186.88 473.26 188.03C473.49 189.19 473.53 188.51 473.66 188.51C473.80 188.51 473.80 188.36 474.06 188.03C474.33 187.70 474.79 187.44 475.25 186.53C475.71 185.62 476.47 183.32 476.83 182.57C477.19 181.83 477.26 182.23 477.42 182.06C477.59 181.90 477.69 181.58 477.82 181.58C477.96 181.58 477.99 181.40 478.22 182.06C478.45 182.72 478.85 184.62 479.21 185.54C479.57 186.47 480.13 187.21 480.39 187.64C480.66 188.07 480.66 188.12 480.79 188.12C480.93 188.12 480.96 188.40 481.19 187.64C481.42 186.88 481.78 185.56 482.18 183.56C482.57 181.57 483.07 178.02 483.56 175.64C484.06 173.27 484.75 170.45 485.15 169.31C485.54 168.17 485.74 168.96 485.94 168.80C486.13 168.63 486.20 168.32 486.34 168.32C486.47 168.32 486.54 168.24 486.74 168.80C486.93 169.36 487.13 170.54 487.52 171.68C487.92 172.82 488.68 174.90 489.11 175.64C489.54 176.39 489.86 175.99 490.10 176.15C490.33 176.32 490.36 176.63 490.50 176.63C490.63 176.63 490.70 176.81 490.90 176.15C491.09 175.49 491.32 175.07 491.68 172.67C492.05 170.28 492.69 166.40 493.07 161.78C493.45 157.16 493.63 148.71 493.94 144.95C494.25 141.19 494.60 141.44 494.93 139.21C495.26 136.98 495.69 133.09 495.92 131.59C496.15 130.08 496.18 130.49 496.32 130.17C496.45 129.86 496.58 129.70 496.71 129.70C496.84 129.70 496.98 129.86 497.11 130.17C497.24 130.49 497.27 130.08 497.50 131.59C497.74 133.09 498.17 136.98 498.50 139.21C498.83 141.44 499.16 142.84 499.49 144.95C499.82 147.06 500.08 147.76 500.48 151.88C500.87 156.01 501.37 165.08 501.86 169.70C502.36 174.32 503.08 177.70 503.45 179.60C503.81 181.50 503.87 180.77 504.04 181.10C504.20 181.43 504.30 181.58 504.44 181.58C504.57 181.58 504.60 181.93 504.84 181.10C505.07 180.28 505.43 178.53 505.82 176.63C506.22 174.73 506.85 171.11 507.21 169.70C507.57 168.30 507.80 168.53 508.00 168.20C508.19 167.87 508.26 167.72 508.40 167.72C508.53 167.72 508.57 167.54 508.80 168.20C509.03 168.86 509.35 170.11 509.78 171.68C510.21 173.25 510.94 176.28 511.37 177.62C511.79 178.96 512.12 179.29 512.35 179.72C512.58 180.15 512.62 180.20 512.75 180.20C512.89 180.20 512.92 180.31 513.15 179.72C513.38 179.12 513.71 178.63 514.14 176.63C514.57 174.63 515.19 170.86 515.72 167.72C516.25 164.59 516.81 160.20 517.31 157.82C517.80 155.45 518.36 154.24 518.69 153.47C519.02 152.69 519.12 153.27 519.28 153.17C519.45 153.07 519.55 152.84 519.68 152.87C519.82 152.90 519.92 152.86 520.08 153.35C520.25 153.84 520.34 153.42 520.67 155.81C521.00 158.21 521.63 164.07 522.06 167.72C522.49 171.37 522.98 175.82 523.25 177.72C523.51 179.62 523.51 178.82 523.64 179.13C523.78 179.45 523.91 179.61 524.04 179.60C524.17 179.60 524.24 180.11 524.44 179.12C524.64 178.13 524.87 176.89 525.23 173.66C525.59 170.44 526.28 162.50 526.61 159.77C526.94 157.05 527.04 157.80 527.20 157.31C527.37 156.82 527.47 156.83 527.60 156.83C527.74 156.83 527.81 156.49 528.00 157.31C528.20 158.14 528.43 159.39 528.79 161.78C529.15 164.18 529.78 169.06 530.18 171.68C530.57 174.31 530.93 176.48 531.16 177.54C531.40 178.60 531.43 178.02 531.56 178.02C531.70 178.02 531.77 178.60 531.96 177.54C532.16 176.48 532.42 174.31 532.75 171.68C533.08 169.06 533.54 164.49 533.94 161.78C534.34 159.08 534.83 156.62 535.13 155.45C535.43 154.27 535.55 154.94 535.72 154.74C535.88 154.54 535.99 154.26 536.12 154.26C536.25 154.26 536.29 154.14 536.52 154.74C536.75 155.33 537.18 157.06 537.50 157.82C537.83 158.59 538.26 158.99 538.49 159.32C538.72 159.65 538.76 159.80 538.89 159.80C539.02 159.80 539.16 159.65 539.29 159.33C539.42 159.02 539.52 160.32 539.68 157.92C539.85 155.52 540.05 148.07 540.28 144.95C540.51 141.83 540.81 141.37 541.07 139.21C541.33 137.04 541.68 133.29 541.86 131.95C542.04 130.61 542.06 131.33 542.16 131.16C542.26 130.98 542.36 130.89 542.46 130.89C542.55 130.89 542.65 130.98 542.75 131.16C542.85 131.33 542.87 130.61 543.05 131.95C543.23 133.29 543.54 137.04 543.84 139.21C544.14 141.37 544.47 141.52 544.83 144.95C545.19 148.38 545.59 154.85 546.02 159.80C546.45 164.76 547.08 171.79 547.41 174.68C547.74 177.57 547.83 176.65 548.00 177.14C548.16 177.63 548.26 177.62 548.40 177.62C548.53 177.62 548.57 177.74 548.80 177.14C549.03 176.55 549.29 176.29 549.78 174.06C550.28 171.83 551.17 166.80 551.76 163.76C552.36 160.73 552.95 157.35 553.35 155.84C553.74 154.34 553.94 155.00 554.13 154.74C554.33 154.47 554.40 154.26 554.53 154.26C554.67 154.26 554.74 153.48 554.93 154.74C555.13 155.99 555.41 159.66 555.72 161.78C556.03 163.90 556.56 166.42 556.81 167.44C557.06 168.46 557.08 167.91 557.21 167.92C557.34 167.93 557.46 167.78 557.58 167.51C557.70 167.23 557.80 170.02 557.95 166.27C558.10 162.52 558.19 150.88 558.45 145.00C558.71 139.12 559.15 139.33 559.50 131.00C559.85 122.67 560.24 103.17 560.55 95.00C560.86 86.83 561.12 85.12 561.35 82.00C561.58 78.88 561.72 76.30 561.90 76.30C562.08 76.30 562.25 78.88 562.45 82.00C562.65 85.12 562.69 86.83 563.07 95.00C563.45 103.17 564.35 121.83 564.75 131.00C565.15 140.17 565.31 144.33 565.50 150.00C565.69 155.67 565.82 159.77 565.90 165.00C565.98 170.23 565.98 178.67 566.00 181.40" fill="none" stroke="#000" stroke-width="1.15" stroke-linejoin="round"/>
<path d="M60.6 196.95L568.35 170.5" stroke="#000" stroke-width="1.85" fill="none"/>
<g stroke="#000" stroke-width="1.25" fill="none">
<path d="M60.6 285.4V0.7H568.35V385.725"/>
<path d="M60.6 290.3V385.1H568.35"/>
<path d="M56.8 284.75H60.6"/>
<path d="M56.8 220.06H60.6"/>
<path d="M56.8 155.38H60.6"/>
<path d="M56.8 90.69H60.6"/>
<path d="M56.8 26.00H60.6"/>
<path d="M568.35 385.10H572"/>
<path d="M568.35 356.50H572"/>
<path d="M568.35 327.90H572"/>
<path d="M568.35 299.30H572"/>
<path d="M568.35 270.70H572"/>
<path d="M74.10 385.1V388.8"/>
<path d="M150.90 385.1V388.8"/>
<path d="M227.70 385.1V388.8"/>
<path d="M304.50 385.1V388.8"/>
<path d="M381.30 385.1V388.8"/>
<path d="M458.10 385.1V388.8"/>
<path d="M534.90 385.1V388.8"/>
</g>
<text x="51.7" y="287.8" font-size="10.5" text-anchor="end" stroke="#000" stroke-width="0.15">0</text>
<text x="51.3" y="223.8" font-size="10.5" text-anchor="end" stroke="#000" stroke-width="0.15" textLength="24.2" lengthAdjust="spacingAndGlyphs">5000</text>
<text x="51.3" y="159.1" font-size="10.5" text-anchor="end" stroke="#000" stroke-width="0.15" textLength="30.2" lengthAdjust="spacingAndGlyphs">10000</text>
<text x="51.3" y="94.4" font-size="10.5" text-anchor="end" stroke="#000" stroke-width="0.15" textLength="30.2" lengthAdjust="spacingAndGlyphs">15000</text>
<text x="51.3" y="29.7" font-size="10.5" text-anchor="end" stroke="#000" stroke-width="0.15" textLength="30.2" lengthAdjust="spacingAndGlyphs">20000</text>
<text x="576.8" y="388.9" font-size="10.5" text-anchor="start" stroke="#000" stroke-width="0.15">0</text>
<text x="576.8" y="360.3" font-size="10.5" text-anchor="start" stroke="#000" stroke-width="0.15">10</text>
<text x="576.8" y="331.7" font-size="10.5" text-anchor="start" stroke="#000" stroke-width="0.15">20</text>
<text x="576.8" y="303.1" font-size="10.5" text-anchor="start" stroke="#000" stroke-width="0.15">30</text>
<text x="576.8" y="274.5" font-size="10.5" text-anchor="start" stroke="#000" stroke-width="0.15">40</text>
<text x="74.1" y="403.9" font-size="10.5" text-anchor="middle" stroke="#000" stroke-width="0.15" textLength="23.8" lengthAdjust="spacingAndGlyphs">1880</text>
<text x="150.9" y="403.9" font-size="10.5" text-anchor="middle" stroke="#000" stroke-width="0.15" textLength="23.8" lengthAdjust="spacingAndGlyphs">1900</text>
<text x="227.7" y="403.9" font-size="10.5" text-anchor="middle" stroke="#000" stroke-width="0.15" textLength="23.8" lengthAdjust="spacingAndGlyphs">1920</text>
<text x="304.5" y="403.9" font-size="10.5" text-anchor="middle" stroke="#000" stroke-width="0.15" textLength="23.8" lengthAdjust="spacingAndGlyphs">1940</text>
<text x="381.3" y="403.9" font-size="10.5" text-anchor="middle" stroke="#000" stroke-width="0.15" textLength="23.8" lengthAdjust="spacingAndGlyphs">1960</text>
<text x="458.1" y="403.9" font-size="10.5" text-anchor="middle" stroke="#000" stroke-width="0.15" textLength="23.8" lengthAdjust="spacingAndGlyphs">1980</text>
<text x="534.9" y="403.9" font-size="10.5" text-anchor="middle" stroke="#000" stroke-width="0.15" textLength="23.8" lengthAdjust="spacingAndGlyphs">2000</text>
<text transform="translate(10.9 193.6) rotate(-90)" font-size="14.4" font-weight="bold" stroke="#000" stroke-width="0.25" text-anchor="middle" textLength="180.4" lengthAdjust="spacingAndGlyphs">Wachstums-Grad-Stunden</text>
<text transform="translate(608.6 281.3) rotate(-90)" font-size="14.3" font-weight="bold" stroke="#000" stroke-width="0.25" text-anchor="middle" textLength="245.2" lengthAdjust="spacingAndGlyphs">Anzahl verwendeter Wetterstationen</text>
<text x="314.4" y="428.0" font-size="15.4" text-anchor="middle" font-weight="bold" stroke="#000" stroke-width="0.3" textLength="33.6" lengthAdjust="spacingAndGlyphs">Jahr</text>
<text x="119.7" y="22.4" font-size="10.4" text-anchor="middle" stroke="#000" stroke-width="0.15" textLength="66" lengthAdjust="spacingAndGlyphs">Langzeittrend</text>
<text x="119.6" y="34.9" font-size="10.4" text-anchor="middle" stroke="#000" stroke-width="0.15" textLength="99.4" lengthAdjust="spacingAndGlyphs">(lineare Regression)</text>
<text x="307.1" y="18.8" font-size="10.4" text-anchor="middle" stroke="#000" stroke-width="0.15" textLength="95" lengthAdjust="spacingAndGlyphs">Verteilung über alle</text>
<text x="306.5" y="30.9" font-size="10.4" text-anchor="middle" stroke="#000" stroke-width="0.15" textLength="110" lengthAdjust="spacingAndGlyphs">Wetterstationen (grau)</text>
<text x="109.0" y="278.5" font-size="10.4" text-anchor="middle" stroke="#000" stroke-width="0.15" textLength="79.6" lengthAdjust="spacingAndGlyphs">Jahresmittelwert</text>
<text x="206.3" y="311.3" font-size="10.4" text-anchor="middle" font-weight="bold" stroke="#000" stroke-width="0.3" textLength="210.3" lengthAdjust="spacingAndGlyphs">+15 Wachstums-Grad-Stunden pro Jahr</text>
<text transform="translate(187.8 326.9) scale(1.075 1)" font-size="10.4" font-weight="bold" stroke="#000" stroke-width="0.3">r<tspan font-size="7.2" dy="-4.6">2</tspan><tspan dy="4.6">=0.11</tspan></text>
<path d="M104.60 43.50L107.85 179.80" stroke="#000" stroke-width="3.1" fill="none" stroke-linecap="round"/><path d="M108.11 190.60L102.73 174.92L105.02 174.47L106.30 179.84L109.40 179.77L110.42 174.34L112.73 174.69Z" fill="#000" stroke="#000" stroke-width="0.6" stroke-linejoin="round"/>
<path d="M318.20 39.00L318.83 82.60" stroke="#000" stroke-width="3.2" fill="none" stroke-linecap="round"/><path d="M319.00 94.90L313.87 78.47L316.16 78.04L317.23 82.62L320.43 82.58L321.36 77.96L323.67 78.33Z" fill="#000" stroke="#000" stroke-width="0.6" stroke-linejoin="round"/>
<path d="M110.10 266.50L107.95 251.28" stroke="#000" stroke-width="3.3" fill="none" stroke-linecap="round"/><path d="M106.16 238.60L113.26 253.86L111.04 254.58L109.58 251.05L106.32 251.51L105.89 255.30L103.56 255.23Z" fill="#000" stroke="#000" stroke-width="0.6" stroke-linejoin="round"/>
</svg>
</body></html>
